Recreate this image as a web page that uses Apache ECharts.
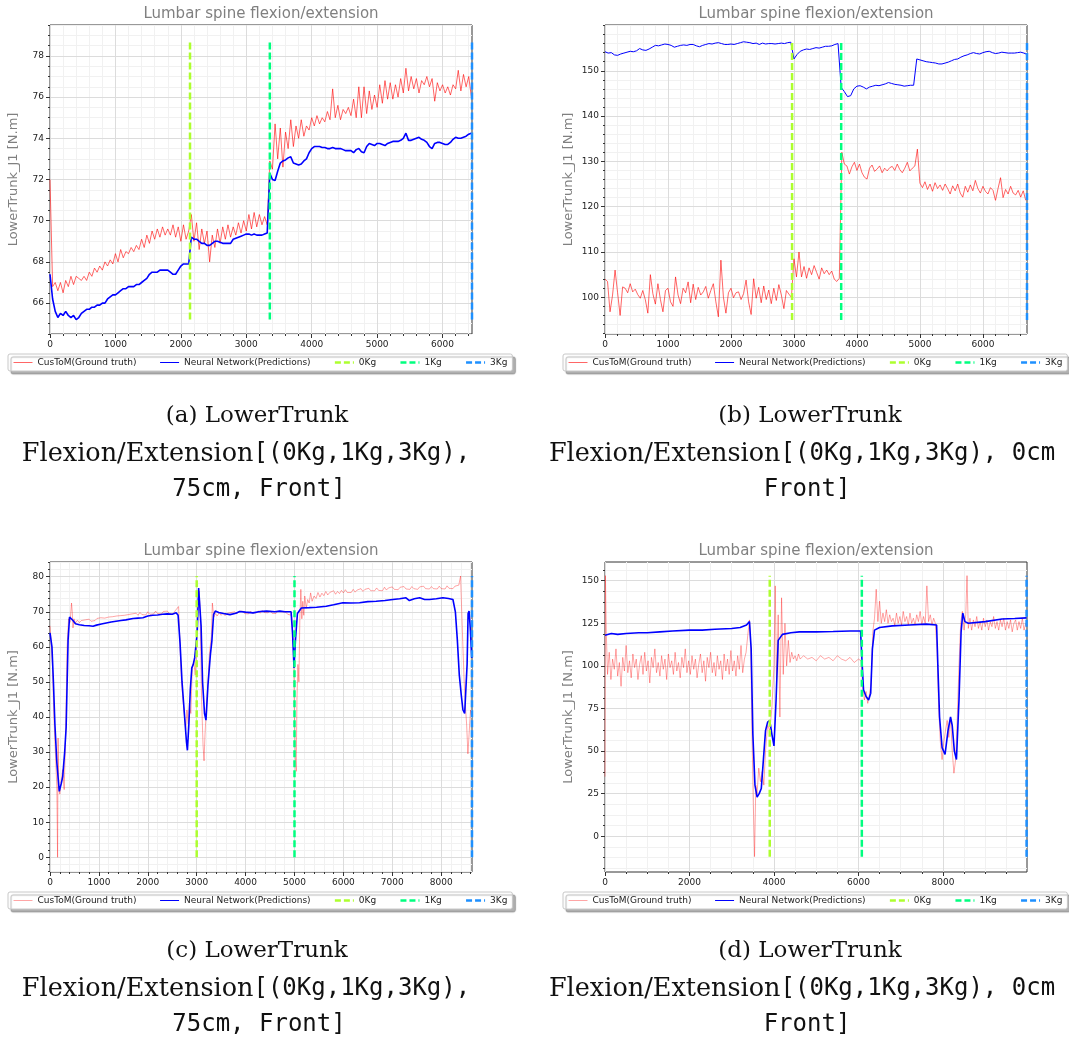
<!DOCTYPE html>
<html>
<head>
<meta charset="utf-8">
<script src="https://cdn.jsdelivr.net/npm/echarts@6.0.0/dist/echarts.min.js"></script>
<style>
html,body{margin:0;padding:0;background:#fff;}
#chart{width:1069px;height:1042px;}
</style>
</head>
<body>
<div id="chart"></div>
<script>
// Series names and load-marker styling
const TRUTH = 'CusToM(Ground truth)';
const NN = 'Neural Network(Predictions)';
const KG_NAMES = ['0Kg', '1Kg', '3Kg'];
const KG_COLORS = ['#adff2f', '#00ff7f', '#1e90ff'];
const TITLE = 'Lumbar spine flexion/extension';
const Y_NAME = 'LowerTrunk_J1 [N.m]';

// ---------- (a) 75cm, front ----------
const truthA = [[0,72.0],[40,66.8],[80,67.0],[120,66.6],[160,67.0],[200,66.5],[240,67.1],[280,66.8],[320,67.3],[360,66.9],[400,67.3],[440,67.2],[480,67.1],[520,67.3],[560,67.1],[600,67.5],[640,67.3],[680,67.7],[720,67.5],[760,67.8],[800,67.6],[840,68.0],[880,67.8],[920,68.1],[960,67.9],[1000,68.4],[1040,68.0],[1080,68.6],[1120,68.2],[1160,68.5],[1200,68.4],[1240,68.7],[1280,68.5],[1320,68.8],[1360,68.6],[1400,69.1],[1440,68.7],[1480,69.3],[1520,68.9],[1560,69.5],[1600,69.1],[1640,69.6],[1680,69.2],[1720,69.7],[1760,69.3],[1800,69.6],[1840,69.3],[1880,69.8],[1920,69.2],[1960,69.7],[2000,69.0],[2040,69.8],[2080,69.1],[2120,69.5],
[2160,70.3],[2200,69.0],[2240,69.9],[2280,68.6],[2320,69.6],[2360,68.9],[2400,69.5],[2440,68.0],[2480,69.3],[2520,68.7],[2560,69.6],[2600,68.9],[2640,69.7],[2680,69.1],[2720,69.8],[2760,69.2],[2800,69.7],[2840,69.3],[2880,69.9],[2920,69.4],[2960,70.0],[3000,69.5],[3040,70.3],[3080,69.6],[3120,70.4],[3160,69.7],[3200,70.3],[3240,69.8],[3280,70.2],[3320,69.8],
[3360,72.9],[3400,72.5],[3440,74.7],[3480,73.0],[3520,74.5],[3560,72.6],[3600,74.3],[3640,73.5],[3680,74.9],[3720,73.6],[3760,74.6],[3800,74.0],[3840,74.9],[3880,74.1],[3920,74.6],[3960,74.4],[4000,75.0],[4040,74.6],[4080,75.1],[4120,74.7],[4160,75.0],[4200,74.8],[4240,75.3],[4280,74.9],[4320,76.4],[4360,75.0],[4400,75.6],[4440,74.9],[4480,75.4],[4520,75.2],[4560,75.5],[4600,75.1],[4640,75.9],[4680,75.0],[4720,76.5],[4760,75.0],[4800,76.5],[4840,75.2],[4880,76.3],[4920,75.4],[4960,76.1],[5000,75.5],[5040,76.6],[5080,75.7],[5120,76.8],[5160,75.9],[5200,76.7],[5240,75.9],[5280,76.6],[5320,76.0],[5360,76.9],[5400,76.2],[5440,77.4],[5480,76.3],[5520,77.0],[5560,76.4],[5600,76.9],[5640,76.2],[5680,76.8],[5720,76.6],[5760,77.0],[5800,76.5],[5840,76.9],[5880,75.8],[5920,76.7],[5960,76.3],[6000,76.6],[6040,76.2],[6080,76.5],[6120,76.1],[6160,76.6],[6200,76.4],[6240,77.3],[6280,76.3],[6320,77.1],[6360,76.5],[6400,77.0],[6440,76.0]];
const predA = [[0,67.4],[40,66.2],[80,65.6],[120,65.3],[160,65.5],[200,65.4],[240,65.6],[280,65.4],[320,65.3],[360,65.4],[400,65.2],[440,65.3],[480,65.5],[520,65.6],[560,65.7],[600,65.7],[640,65.8],[680,65.8],[720,65.9],[760,65.9],[800,66.0],[840,66.0],[880,66.2],[920,66.3],[960,66.4],[1000,66.4],[1040,66.5],[1080,66.6],[1120,66.7],[1160,66.7],[1200,66.8],[1240,66.8],[1280,66.8],[1320,66.9],[1360,66.9],[1400,67.0],[1440,67.1],[1480,67.2],[1520,67.4],[1560,67.5],[1600,67.5],[1640,67.5],[1680,67.6],[1720,67.6],[1760,67.6],[1800,67.6],[1840,67.5],[1880,67.4],[1920,67.4],[1960,67.6],[2000,67.8],[2040,67.9],[2080,67.9],[2120,67.9],
[2160,69.2],[2200,69.1],[2240,69.1],[2280,69.0],[2320,68.9],[2360,68.9],[2400,68.8],[2440,68.8],[2480,68.9],[2520,69.0],[2560,69.0],[2600,68.95],[2640,68.9],[2680,68.9],[2720,68.9],[2760,68.9],[2800,69.1],[2840,69.15],[2880,69.2],[2920,69.25],[2960,69.3],[3000,69.35],[3040,69.35],[3080,69.3],[3120,69.35],[3160,69.3],[3200,69.3],[3240,69.3],[3280,69.35],[3320,69.4],
[3360,72.3],[3400,72.0],[3440,71.95],[3480,72.4],[3520,72.8],[3560,72.9],[3600,72.95],[3640,73.05],[3680,73.1],[3720,72.8],[3760,72.75],[3800,72.7],[3840,72.75],[3880,72.9],[3920,73.0],[3960,73.3],[4000,73.5],[4040,73.6],[4080,73.6],[4120,73.6],[4160,73.55],[4200,73.55],[4240,73.5],[4280,73.5],[4320,73.55],[4360,73.5],[4400,73.5],[4440,73.5],[4480,73.45],[4520,73.4],[4560,73.4],[4600,73.4],[4640,73.3],[4680,73.45],[4720,73.5],[4760,73.35],[4800,73.3],[4840,73.6],[4880,73.75],[4920,73.7],[4960,73.65],[5000,73.75],[5040,73.75],[5080,73.7],[5120,73.65],[5160,73.75],[5200,73.8],[5240,73.85],[5280,73.85],[5320,73.85],[5360,73.9],[5400,74.0],[5440,74.25],[5480,73.9],[5520,73.9],[5560,73.95],[5600,74.0],[5640,74.05],[5680,73.95],[5720,73.9],[5760,73.8],[5800,73.6],[5840,73.5],[5880,73.75],[5920,73.8],[5960,73.8],[6000,73.75],[6040,73.7],[6080,73.7],[6120,73.8],[6160,73.95],[6200,74.05],[6240,74.0],[6280,74.0],[6320,74.05],[6360,74.1],[6400,74.2],[6440,74.25]];
const kgXA = [2140, 3360, 6450];
const kgSpanA = [65.2, 78.8];
const xTicksA = [0, 1000, 2000, 3000, 4000, 5000, 6000];
const yTicksA = [66, 68, 70, 72, 74, 76, 78];

// ---------- (b) 0cm, front ----------
const truthB = [[0,104.0],[40,103.5],[80,96.8],[120,100.5],[160,106.0],[200,101.0],[240,96.0],[280,102.3],[320,102.0],[360,101.0],[400,103.0],[440,101.2],[480,101.8],[520,100.6],[560,99.8],[600,101.5],[640,99.5],[680,96.5],[720,105.0],[760,100.8],[800,98.5],[840,103.0],[880,99.5],[920,96.8],[960,101.5],[1000,102.0],[1040,99.0],[1080,98.0],[1120,104.5],[1160,100.5],[1200,98.6],[1240,102.0],[1280,101.0],[1320,103.4],[1360,98.8],[1400,102.9],[1440,99.5],[1480,102.2],[1520,100.5],[1560,101.2],[1600,102.4],[1640,99.8],[1680,101.5],[1720,103.0],[1760,99.0],[1800,95.7],[1840,108.2],[1880,100.0],[1920,96.5],[1960,101.0],[2000,102.0],[2040,99.9],[2080,101.0],[2120,101.2],[2160,99.5],[2200,100.8],[2240,103.8],[2280,99.0],[2320,96.2],[2360,104.1],[2400,99.8],[2440,102.2],[2480,98.8],[2520,102.5],[2560,99.5],[2600,101.6],[2640,98.6],[2680,102.0],[2720,99.3],[2760,102.8],[2800,100.5],[2840,97.5],[2880,101.5],[2920,100.7],[2960,100.0],
[3000,108.5],[3040,104.5],[3080,110.0],[3120,104.5],[3160,106.8],[3200,104.2],[3240,106.5],[3280,105.0],[3320,107.0],[3360,105.5],[3400,104.0],[3440,106.5],[3480,105.2],[3520,106.0],[3560,105.0],[3600,105.8],[3640,104.0],[3680,103.5],[3720,104.2],
[3760,132.0],[3800,129.4],[3840,129.0],[3880,127.2],[3920,128.8],[3960,129.8],[4000,128.0],[4040,129.4],[4080,127.5],[4120,126.5],[4160,126.1],[4200,128.5],[4240,129.2],[4280,127.8],[4320,128.3],[4360,129.0],[4400,127.5],[4440,128.5],[4480,127.9],[4520,128.6],[4560,128.9],[4600,128.0],[4640,129.4],[4680,128.2],[4720,127.5],[4760,128.5],[4800,129.8],[4840,127.9],[4880,128.5],[4920,129.0],[4960,132.7],
[5000,125.2],[5040,124.2],[5080,125.5],[5120,123.8],[5160,125.0],[5200,123.4],[5240,125.3],[5280,124.0],[5320,124.8],[5360,123.6],[5400,125.0],[5440,124.0],[5480,122.8],[5520,124.6],[5560,123.5],[5600,125.0],[5640,123.0],[5680,122.1],[5720,124.5],[5760,123.2],[5800,124.8],[5840,123.5],[5880,125.8],[5920,124.0],[5960,123.0],[6000,124.5],[6040,123.4],[6080,122.8],[6120,124.2],[6160,123.6],[6200,121.4],[6240,124.0],[6280,126.4],[6320,122.0],[6360,123.8],[6400,122.8],[6440,124.5],[6480,123.0],[6520,122.6],[6560,123.6],[6600,122.1],[6640,123.5],[6680,121.4]];
const predB = [[0,154.2],[50,153.9],[100,154.0],[150,153.5],[200,153.4],[250,153.7],[300,153.9],[350,154.1],[400,154.3],[450,154.2],[500,154.4],[550,154.9],[600,154.6],[650,154.5],[700,154.8],[750,155.2],[800,155.6],[850,155.5],[900,155.7],[950,155.9],[1000,155.8],[1050,155.6],[1100,155.2],[1150,155.4],[1200,155.6],[1250,155.7],[1300,155.6],[1350,155.8],[1400,155.8],[1450,155.5],[1500,155.3],[1550,155.6],[1600,155.8],[1650,156.0],[1700,155.9],[1750,156.1],[1800,156.2],[1850,156.0],[1900,155.8],[1950,155.8],[2000,155.9],[2050,155.8],[2100,156.0],[2150,156.2],[2200,156.4],[2250,156.3],[2300,156.2],[2350,156.0],[2400,156.1],[2450,155.8],[2500,156.1],[2550,155.9],[2600,156.0],[2650,156.0],[2700,155.9],[2750,156.0],[2800,156.1],[2850,156.0],[2900,156.2],[2950,156.3],
[3000,152.6],[3050,153.6],[3100,154.3],[3150,154.6],[3200,154.8],[3250,154.7],[3300,154.9],[3350,155.1],[3400,155.0],[3450,155.2],[3500,155.4],[3550,155.4],[3600,155.5],[3650,155.8],[3700,156.0],
[3750,146.3],[3800,145.4],[3850,144.3],[3900,144.5],[3950,146.0],[4000,146.6],[4050,146.7],[4100,146.4],[4150,146.0],[4200,146.4],[4250,146.6],[4300,146.8],[4350,146.7],[4400,146.9],[4450,147.1],[4500,147.4],[4550,147.2],[4600,147.0],[4650,146.9],[4700,146.8],[4750,146.6],[4800,146.7],[4850,146.8],[4900,146.8],
[4950,152.6],[5000,152.4],[5050,152.2],[5100,152.0],[5150,151.9],[5200,151.8],[5250,151.7],[5300,151.5],[5350,151.5],[5400,151.7],[5450,151.9],[5500,152.2],[5550,152.5],[5600,152.6],[5650,153.0],[5700,153.3],[5750,153.5],[5800,153.8],[5850,154.0],[5900,153.8],[5950,153.7],[6000,154.0],[6050,154.2],[6100,154.3],[6150,154.0],[6200,153.8],[6250,153.9],[6300,154.1],[6350,154.0],[6400,153.9],[6450,153.9],[6500,153.9],[6550,154.0],[6600,154.1],[6650,153.9],[6700,153.6]];
const kgXB = [2970, 3750, 6700];
const kgSpanB = [95.0, 156.8];
const xTicksB = [0, 1000, 2000, 3000, 4000, 5000, 6000];
const yTicksB = [100, 110, 120, 130, 140, 150];

// ---------- (c) 75cm, front ----------
const truthC = [[0,66],[20,62],[50,55],[80,40],[110,30],[140,20],[155,0],[165,34],[180,20],[200,18],[230,22],[260,25],[290,19.3],[320,35],[350,60],[380,68],[410,67],[440,72.5],[455,70],[470,65.4],[490,68],[520,66.8],[560,67.6],[600,66.9],[640,67.5],[680,67.0],[720,67.7],[760,67.2],[800,67.9],[840,67.3],[880,67.8],[920,67.5],[960,68.1],[1000,67.6],[1040,68.3],[1080,67.8],[1120,68.2],[1160,67.9],[1200,68.5],[1240,68.0],[1280,68.6],[1320,68.1],[1360,68.8],[1400,68.3],[1440,68.9],[1480,68.4],[1520,69.0],[1560,68.6],[1600,69.2],[1640,68.7],[1680,69.4],[1720,68.9],[1760,69.6],[1800,69.0],[1840,69.8],[1880,69.2],[1920,69.5],[1960,69.1],[2000,70.0],[2040,69.3],[2080,69.8],[2120,69.4],[2160,70.2],[2200,69.5],[2240,69.9],[2280,69.4],[2320,70.1],[2360,69.6],[2400,70.2],[2440,69.5],[2480,70.0],[2520,69.4],[2560,70.3],[2600,69.8],[2630,71.5],[2660,60],[2690,50],[2720,45],[2750,40],[2775,36.5],[2800,42],[2830,38],[2850,44],[2880,41],[2910,54],[2940,56],[2970,52],[3000,60],[3020,72],[3050,75.9],[3070,70],[3100,45],[3130,32],[3150,27.5],[3170,35],[3200,43],[3230,50],[3260,58],[3300,63],[3320,72.5],[3350,68.5],[3380,69.5],[3420,68.8],[3460,69.8],[3500,69.0],[3540,69.6],[3580,68.9],[3620,69.5],[3660,69.0],[3700,69.8],[3740,69.3],[3780,70.0],[3820,69.4],[3860,70.1],[3900,69.6],[3940,70.2],[3980,69.5],[4020,70.0],[4060,69.4],[4100,70.2],[4140,69.6],[4180,70.1],[4220,69.7],[4260,70.3],[4300,69.6],[4340,70.4],[4380,69.8],[4420,70.2],[4460,69.7],[4500,70.3],[4540,69.6],[4580,70.1],[4620,69.5],[4660,70.2],[4700,69.7],[4740,70.0],[4780,69.5],[4820,69.9],[4860,69.3],[4900,69.6],[4940,69.0],[4980,60],[5000,40],[5020,28],[5035,24.5],[5050,45],[5070,55],[5090,50],[5110,68.3],[5130,76.4],[5150,68],[5170,73],[5190,69],[5210,74.5],[5240,71],[5270,73.5],[5300,72.5],[5330,75.4],[5360,73.0],[5400,74.5],[5440,73.8],[5480,75.5],[5520,74.2],[5560,75.3],[5600,74.6],[5640,75.8],[5680,74.8],[5720,75.5],[5760,75.0],[5800,76.0],[5840,75.0],[5880,75.8],[5920,75.2],[5960,76.1],[6000,75.4],[6040,76.3],[6080,75.5],[6120,76.0],[6160,75.5],[6200,76.4],[6240,75.6],[6280,76.2],[6320,75.7],[6360,76.6],[6400,75.8],[6440,76.4],[6480,75.9],[6520,76.7],[6560,76.0],[6600,76.5],[6640,76.0],[6680,76.8],[6720,76.1],[6760,76.6],[6800,76.0],[6840,77.0],[6880,76.2],[6920,76.8],[6960,76.3],[7000,77.1],[7040,76.4],[7080,76.9],[7120,76.3],[7160,77.0],[7200,76.5],[7240,77.2],[7280,76.5],[7320,76.9],[7360,76.4],[7400,77.2],[7440,76.6],[7480,77.0],[7520,76.4],[7560,77.1],[7600,76.6],[7640,77.3],[7680,76.6],[7720,77.0],[7760,76.5],[7800,77.2],[7840,76.6],[7880,77.1],[7920,76.5],[7960,77.3],[8000,76.6],[8040,77.0],[8080,76.5],[8120,77.4],[8160,76.7],[8200,77.1],[8240,76.6],[8280,77.3],[8320,76.8],[8360,77.6],[8397,80.2],[8420,70],[8440,61.6],[8470,50],[8500,42],[8520,38],[8546,29.5],[8570,35],[8600,42],[8625,40]];
const predC = [[0,64],[40,60],[70,50],[100,38],[140,27],[190,18.8],[230,21],[260,23],[300,30],[330,37],[370,62],[400,68.5],[435,69],[470,67.5],[520,66.6],[600,66.3],[700,66.1],[800,66.0],[880,65.9],[950,66.2],[1050,66.5],[1150,66.8],[1250,67.1],[1350,67.3],[1450,67.5],[1550,67.7],[1700,68.1],[1800,68.2],[1900,68.3],[2000,68.8],[2100,69.0],[2200,69.1],[2300,69.3],[2400,69.4],[2500,69.3],[2580,69.7],[2620,69.0],[2660,61],[2700,50],[2740,42.5],[2790,33],[2810,30.5],[2840,38],[2870,48],[2900,54],[2930,55],[2960,57],[2990,57.5],[3010,64],[3040,76.8],[3060,76.4],[3090,66],[3120,50],[3160,41],[3190,39.1],[3230,49],[3280,57.8],[3310,61.6],[3345,69.2],[3380,70.2],[3450,69.8],[3550,69.5],[3680,69.2],[3800,69.6],[3880,70.1],[4000,69.9],[4150,69.7],[4300,70.1],[4430,70.2],[4600,70.0],[4700,70.2],[4800,70.0],[4930,70.0],[4960,64],[4990,54],[5020,62],[5060,69.5],[5140,71.1],[5300,71.2],[5450,71.3],[5650,71.6],[5800,72.0],[5990,72.6],[6150,72.5],[6330,72.6],[6500,72.9],[6670,73.0],[6850,73.2],[7010,73.5],[7150,73.7],[7280,74.0],[7350,73.2],[7450,73.7],[7560,74.0],[7660,73.5],[7760,73.5],[7900,73.7],[8035,74.0],[8150,73.8],[8240,73.5],[8290,70],[8330,62],[8370,52],[8410,46.3],[8445,42],[8480,41],[8510,40.5],[8530,55],[8550,69.5],[8570,70.2],[8595,65.4],[8625,56.8]];
const kgXC = [3000, 5000, 8630];
const kgSpanC = [0, 80.2];
const xTicksC = [0, 1000, 2000, 3000, 4000, 5000, 6000, 7000, 8000];
const yTicksC = [0, 10, 20, 30, 40, 50, 60, 70, 80];

// ---------- (d) 0cm, front ----------
const truthD = [[0,35],[10,153],[30,120],[60,95],[100,108],[140,92],[180,104],[220,98],[260,110],[300,94],[340,102],[380,88],[420,105],[460,97],[500,112],[540,96],[580,103],[620,93],[660,107],[700,99],[740,104],[780,92],[820,101],[860,106],[900,95],[940,108],[980,97],[1020,103],[1060,90],[1100,105],[1140,99],[1180,110],[1220,96],[1260,102],[1300,94],[1340,106],[1380,98],[1420,104],[1460,92],[1500,107],[1540,99],[1580,103],[1620,95],[1660,108],[1700,97],[1740,102],[1780,93],[1820,105],[1860,99],[1900,110],[1940,96],[1980,103],[2020,95],[2060,106],[2100,98],[2140,104],[2180,93],[2220,101],[2260,107],[2300,96],[2340,103],[2380,91],[2420,105],[2460,99],[2500,108],[2540,96],[2580,102],[2620,94],[2660,106],[2700,98],[2740,103],[2780,92],[2820,107],[2860,97],[2900,104],[2940,95],[2980,109],[3020,97],[3060,103],[3100,94],[3140,106],[3180,98],[3220,112],[3260,96],[3300,104],[3340,108],[3380,118],[3420,127],[3450,110],[3480,60],[3510,20],[3540,-12],[3570,30],[3600,25],[3640,40],[3680,32],[3720,38],[3760,30],[3800,50],[3850,65],[3900,62],[3950,75],[4000,100],[4030,147],[4060,90],[4100,130],[4140,70],[4180,140],[4220,95],[4260,125],[4300,100],[4340,115],[4380,102],[4420,108],[4460,104],[4500,106],[4540,103],[4580,107],[4620,104],[4700,106],[4800,104],[4900,105],[5000,103],[5100,106],[5200,104],[5300,105],[5400,103],[5500,106],[5600,104],[5700,103],[5800,105],[5900,102],[6000,104],[6060,103],[6100,88],[6140,80],[6180,85],[6220,78],[6260,83],[6300,90],[6340,120],[6380,128],[6420,145],[6460,126],[6500,138],[6540,125],[6580,131],[6620,126],[6660,133],[6700,125],[6740,130],[6780,126],[6820,128],[6860,124],[6900,131],[6940,125],[6980,129],[7020,124],[7060,132],[7100,126],[7140,129],[7180,124],[7220,131],[7260,125],[7300,128],[7340,124],[7380,130],[7420,126],[7460,132],[7500,124],[7540,129],[7580,125],[7620,147],[7660,126],[7700,130],[7740,124],[7780,128],[7820,125],[7860,110],[7900,75],[7940,55],[7980,45],[8020,55],[8060,62],[8100,68],[8140,58],[8180,70],[8220,50],[8260,37],[8300,45],[8340,70],[8380,100],[8420,125],[8460,132],[8500,121],[8540,130],[8570,153],[8600,122],[8640,128],[8680,121],[8720,127],[8760,123],[8800,129],[8840,122],[8880,126],[8920,121],[8960,128],[9000,123],[9040,127],[9080,121],[9120,126],[9160,123],[9200,129],[9240,122],[9280,126],[9320,121],[9360,127],[9400,123],[9440,128],[9480,121],[9520,126],[9560,122],[9600,127],[9640,120],[9680,125],[9720,127],[9760,121],[9800,126],[9840,122],[9880,128],[9920,121],[9960,125],[9980,123]];
const predD = [[0,118],[150,119],[300,118.5],[500,119],[800,119.5],[1000,119.5],[1300,120],[1600,120.5],[2000,121],[2300,121],[2600,121.5],[3000,122],[3200,122.5],[3350,124],[3420,126],[3460,110],[3500,60],[3550,30],[3600,23],[3650,25],[3700,28],[3750,45],[3800,62],[3850,67],[3900,68],[3950,60],[4000,53],[4050,80],[4100,115],[4200,118.5],[4400,119.5],[4600,120],[5000,120],[5400,120.2],[5800,120.5],[6050,120.5],[6090,100],[6120,86],[6180,82],[6240,80],[6290,84],[6330,110],[6380,121],[6500,122.5],[6800,123.5],[7200,124],[7600,124.5],[7850,124],[7880,100],[7920,70],[7980,52],[8050,48],[8120,62],[8180,70],[8220,65],[8270,50],[8320,45],[8380,80],[8430,120],[8470,131],[8520,126],[8600,125],[9000,126],[9400,127.5],[9700,127.8],[9980,128.2]];
const kgXD = [3900, 6080, 9980];
const kgSpanD = [-12, 153];
const xTicksD = [0, 2000, 4000, 6000, 8000];
const yTicksD = [0, 25, 50, 75, 100, 125, 150];

// Panel layout (plot rectangles in px) and axis extents
const panels = [
  { grid: {left: 50, top: 25, width: 422, height: 309}, x: [0, 6450], y: [64.5, 79.5],
    xTicks: xTicksA, yTicks: yTicksA, xMinor: 200, yMinor: 0.5,
    truth: truthA, pred: predA, kgX: kgXA, kgSpan: kgSpanA,
    truthColor: 'rgba(255,0,0,0.6)', predWidth: 1.6,
    titleY: 14.5, legend: [8, 354], cx: [257, 246, 259], capY: [416, 454, 490],
    caption: ['{r|(a) LowerTrunk}', '{s|Flexion/Extension}{m|[(0Kg,1Kg,3Kg),}', '{m|75cm, Front]}'] },
  { grid: {left: 605, top: 25, width: 422, height: 309}, x: [0, 6700], y: [91.9, 160.1],
    xTicks: xTicksB, yTicks: yTicksB, xMinor: 200, yMinor: 2,
    truth: truthB, pred: predB, kgX: kgXB, kgSpan: kgSpanB,
    truthColor: 'rgba(255,0,0,0.6)', predWidth: 1,
    titleY: 14.5, legend: [563, 354], cx: [810, 802, 807], capY: [416, 454, 490],
    caption: ['{r|(b) LowerTrunk}', '{s|Flexion/Extension}{m|[(0Kg,1Kg,3Kg), 0cm}', '{m|Front]}'] },
  { grid: {left: 50, top: 562, width: 422, height: 310}, x: [0, 8630], y: [-4.2, 84.2],
    xTicks: xTicksC, yTicks: yTicksC, xMinor: 200, yMinor: 2,
    truth: truthC, pred: predC, kgX: kgXC, kgSpan: kgSpanC,
    truthColor: 'rgba(255,0,0,0.35)', predWidth: 1.6,
    titleY: 551, legend: [8, 892], cx: [257, 246, 259], capY: [951, 989, 1025],
    caption: ['{r|(c) LowerTrunk}', '{s|Flexion/Extension}{m|[(0Kg,1Kg,3Kg),}', '{m|75cm, Front]}'] },
  { grid: {left: 605, top: 562, width: 422, height: 310}, x: [0, 9990], y: [-21, 161],
    xTicks: xTicksD, yTicks: yTicksD, xMinor: 500, yMinor: 6.25,
    truth: truthD, pred: predD, kgX: kgXD, kgSpan: kgSpanD,
    truthColor: 'rgba(255,0,0,0.35)', predWidth: 1.6,
    titleY: 551, legend: [563, 892], cx: [810, 802, 807], capY: [951, 989, 1025],
    caption: ['{r|(d) LowerTrunk}', '{s|Flexion/Extension}{m|[(0Kg,1Kg,3Kg), 0cm}', '{m|Front]}'] }
];

// Tick positions at a fixed step inside [lo, hi]
function stepTicks(lo, hi, step) {
  const out = [];
  for (let k = Math.ceil(lo / step - 1e-9); k * step <= hi + 1e-9; k++) out.push(+(k * step).toFixed(4));
  return out;
}

const FONT = 'DejaVu Sans';
const grids = [], xAxes = [], yAxes = [], series = [], legends = [], graphics = [];

panels.forEach((p, i) => {
  grids.push(Object.assign({show: true, borderColor: '#333', borderWidth: 1, backgroundColor: 'transparent',
    containLabel: false, outerBoundsMode: 'none'}, p.grid));

  // major axes: ticks, labels and grid lines at the listed values
  const major = (dim, range, ticks) => ({
    type: 'value', gridIndex: i, min: range[0], max: range[1],
    position: dim === 'x' ? 'bottom' : 'left',
    axisLine: {show: false, onZero: false},
    axisTick: {show: true, length: 4, customValues: ticks, lineStyle: {color: '#333', width: 1}},
    axisLabel: {show: true, customValues: ticks, fontSize: 9, color: '#222', fontFamily: FONT, margin: 6,
      formatter: v => String(v)},
    splitLine: {show: true, lineStyle: {color: '#dcdcdc', width: 1}},
    z: 2
  });
  // minor axes, laid over the same edge: short ticks and faint grid
  const minor = (dim, range, step, size) => ({
    type: 'value', gridIndex: i, min: range[0], max: range[1],
    position: dim === 'x' ? 'top' : 'right', offset: -size,
    axisLine: {show: false, onZero: false},
    axisTick: {show: true, inside: true, length: 2, customValues: stepTicks(range[0], range[1], step), lineStyle: {color: '#333', width: 1}},
    axisLabel: {show: false},
    splitLine: {show: true, lineStyle: {color: '#f1f1f1', width: 1}},
    z: 1
  });
  xAxes.push(major('x', p.x, p.xTicks), minor('x', p.x, p.xMinor, p.grid.height));
  yAxes.push(major('y', p.y, p.yTicks), minor('y', p.y, p.yMinor, p.grid.width));

  const ax = {xAxisIndex: 2 * i, yAxisIndex: 2 * i};
  series.push(Object.assign({type: 'line', name: TRUTH, data: p.truth, symbol: 'none', silent: true,
    lineStyle: {color: p.truthColor, width: 1}, itemStyle: {color: p.truthColor}, z: 3}, ax));
  series.push(Object.assign({type: 'line', name: NN, data: p.pred, symbol: 'none', silent: true,
    lineStyle: {color: '#0000ff', width: p.predWidth}, itemStyle: {color: '#0000ff'}, z: 3}, ax));
  KG_NAMES.forEach((n, k) => {
    series.push(Object.assign({type: 'line', name: n, symbol: 'none', silent: true,
      data: [[p.kgX[k], p.kgSpan[0]], [p.kgX[k], p.kgSpan[1]]],
      lineStyle: {color: KG_COLORS[k], width: 2.5, type: [7, 3]}, itemStyle: {color: KG_COLORS[k]}, z: 4}, ax));
  });

  legends.push({
    left: p.legend[0], top: p.legend[1], orient: 'horizontal', selectedMode: false,
    itemWidth: 19, itemHeight: 9, itemGap: 23, padding: [4, 5],
    textStyle: {fontSize: 9, color: '#222', fontFamily: FONT},
    backgroundColor: '#fff', borderColor: '#c8c8c8', borderWidth: 1, borderRadius: 2,
    shadowColor: 'rgba(0,0,0,0.3)', shadowBlur: 1, shadowOffsetX: 3, shadowOffsetY: 3,
    data: [
      {name: TRUTH, lineStyle: {color: p.truthColor, width: 1}, itemStyle: {opacity: 0}},
      {name: NN, lineStyle: {color: '#0000ff', width: 1}, itemStyle: {opacity: 0}},
      ...KG_NAMES.map((n, k) => ({name: n, lineStyle: {color: KG_COLORS[k], width: 2.5, type: [6, 3]}, itemStyle: {opacity: 0}}))
    ]
  });

  const cx = p.grid.left + p.grid.width / 2;
  const cy = p.grid.top + p.grid.height / 2;
  graphics.push({type: 'text', x: cx, y: p.titleY, silent: true,
    style: {text: TITLE, fontSize: 15, fontFamily: FONT, fill: '#808080', align: 'center', verticalAlign: 'middle'}});
  graphics.push({type: 'text', x: p.grid.left - 36, y: cy, rotation: Math.PI / 2, silent: true,
    style: {text: Y_NAME, fontSize: 13, fontFamily: FONT, fill: '#808080', align: 'center', verticalAlign: 'middle'}});
  p.caption.forEach((line, k) => {
    graphics.push({type: 'text', x: p.cx[k], y: p.capY[k], silent: true,
      style: {text: line, align: 'center', verticalAlign: 'middle',
        rich: {r: {fontFamily: 'DejaVu Serif', fontSize: 23, fill: '#111'},
               s: {fontFamily: 'DejaVu Serif', fontSize: 25.5, fill: '#111'},
               m: {fontFamily: 'DejaVu Sans Mono', fontSize: 24, fill: '#111'}}}});
  });
});

const chart = echarts.init(document.getElementById('chart'), null, {renderer: 'canvas', width: 1069, height: 1042});
chart.setOption({
  animation: false,
  backgroundColor: '#fff',
  grid: grids,
  xAxis: xAxes,
  yAxis: yAxes,
  legend: legends,
  series: series,
  graphic: graphics
});
</script>
</body>
</html>
